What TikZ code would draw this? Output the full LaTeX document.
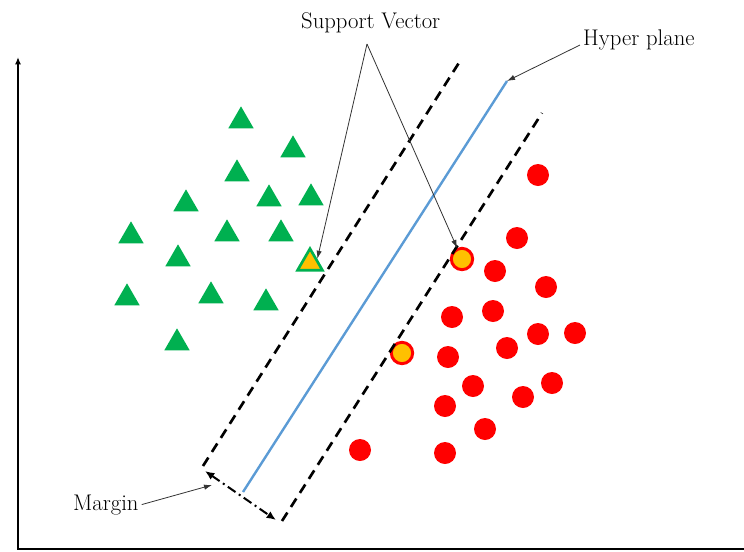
\documentclass[tikz,border=0pt]{standalone}
\usetikzlibrary{shapes.geometric, arrows.meta}
\definecolor{verde}{RGB}{0,176,80}
\definecolor{rosso}{RGB}{255,0,0}
\definecolor{oro}{RGB}{255,192,0}
\definecolor{azzurro}{RGB}{91,155,213}
\begin{document}
\begin{tikzpicture}[>={Latex[length=6pt, width=4pt]}, thick, x=0.75pt, y=-0.75pt,
	tri/.style={regular polygon, regular polygon sides=3, fill=verde, inner sep=0pt, minimum size=22pt},
	svtri/.style={regular polygon, regular polygon sides=3, fill=oro, draw=verde, line width=2pt, inner sep=0pt, minimum size=21.5pt},
	pto/.style={circle, fill=rosso, inner sep=0pt, minimum size=16.5pt},
	svpto/.style={circle, fill=oro, draw=rosso, line width=2.2pt, inner sep=0pt, minimum size=16pt},
	freccia/.style={->, line width=0.6pt, black!80},
	etich/.style={font=\fontsize{17}{20}\selectfont, inner sep=2pt, anchor=base west}]
			% Definizioni per lo spessore delle linee
			\def\lw{1.5pt}
			\def\lb{2pt}
			
			\useasboundingbox (0,0) rectangle (744,551);
			
			% --- Assi ---
			\draw[-{Latex[length=5.5pt, width=4.5pt]}, line width=\lw] (18,549) -- (18,57);
			\draw[line width=\lw] (17,549) -- (744,549);
			
			% --- Classe A (triangoli) ---
			\foreach \x/\y [count=\i] in {241/121, 293/150, 237/174, 186/204, 269/199, 311/198, 131/236, 227/234, 281/234, 178/259, 127/298, 211/296, 266/303, 177/343}
			\node[tri] (t\i) at (\x,\y) {};
			\node[svtri] (svtri) at (310,263) {};
			
			% --- Classe B (cerchi) ---
			\foreach \x/\y [count=\i] in {538/175, 517/238, 495/271, 546/287, 452/317, 493/311, 538/334, 575/333, 448/357, 507/348, 473/386, 552/383, 445/406, 523/397, 485/429, 360/450, 445/453}
			\node[pto] (c\i) at (\x,\y) {};
			\node[svpto] (svc1) at (462,259) {};
			\node[svpto] (svc2) at (402,353) {};
			
			% --- Margini e iperpiano ---
			\coordinate (sxbasso) at (203,466);
			\coordinate (sxalto) at (462,58);
			\coordinate (dxbasso) at (282,521);
			\coordinate (dxalto) at (542,113);
			\coordinate (hpbasso) at (243,492);
			\coordinate (hpalto) at (507,81);
			\draw[line width=\lb, dash pattern=on 7.5pt off 5pt] (sxbasso) -- (sxalto);
			\draw[line width=\lb, dash pattern=on 7.5pt off 5pt] (dxbasso) -- (dxalto);
			\draw[azzurro, line width=1.8pt] (hpbasso) -- (hpalto);
			
			% --- Margine ---
			\coordinate (m1) at (205,471);
			\coordinate (m2) at (276,520);
			\coordinate (mpt) at (212,485);
			\draw[{Latex[length=7pt, width=6pt]}-{Latex[length=7pt, width=6pt]}, line width=\lw, dash pattern=on 7pt off 3pt on 1.5pt off 3pt] (m1) -- (m2);
			
			% --- Etichette ---
			\node[etich] (sv) at (298,28) {Support Vector};
			\node[etich] (hp) at (580,45) {Hyper plane};
			\node[etich] (mg) at (70,510) {Margin};
			
			\coordinate (vertice) at (367,44);
			\draw[freccia] (vertice) -- (svtri.side 3);
			\draw[freccia] (vertice) -- (svc1);
			\draw[freccia] (hp.base west) -- (hpalto);
			\draw[freccia] (mg.east) -- (mpt);
		\end{tikzpicture}
\end{document}
